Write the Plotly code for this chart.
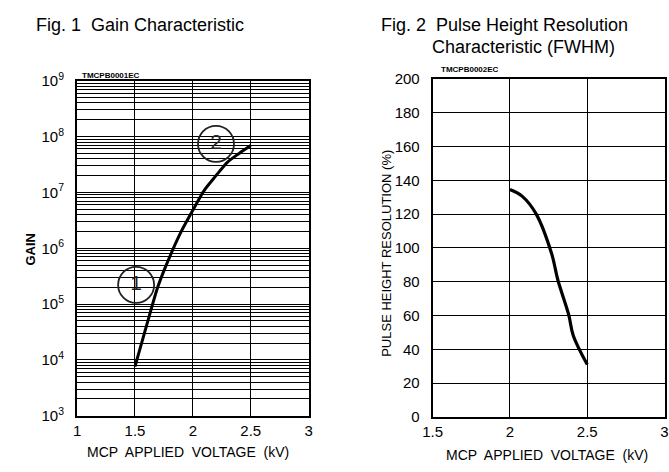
import plotly.graph_objects as go

# ---- data ----
gain_voltage = [1.5, 1.6, 1.7, 1.8, 1.9, 2.0, 2.1, 2.2, 2.3, 2.4, 2.5]
gain_values = [7.6e3, 4.1e4, 2.1e5, 7.0e5, 2.0e6, 4.8e6, 1.1e7, 2.0e7, 3.5e7, 5.0e7, 6.9e7]

res_voltage = [2.0, 2.08, 2.17, 2.27, 2.31, 2.38, 2.41, 2.5]
res_values = [134.5, 130.5, 120, 96.5, 81, 60.5, 48, 31]

label_x = [1.51, 2.2]
label_y = [2.2e5, 7.4e7]
label_text = ["1", "2"]

gain_ticks = [1e3, 1e4, 1e5, 1e6, 1e7, 1e8, 1e9]
gain_ticktext = ["10<sup>3</sup>", "10<sup>4</sup>", "10<sup>5</sup>", "10<sup>6</sup>",
                 "10<sup>7</sup>", "10<sup>8</sup>", "10<sup>9</sup>"]
gain_minor = [m * 10 ** e for e in range(3, 9) for m in range(2, 10)]

volt_ticks_left = [1, 1.5, 2, 2.5, 3]
volt_ticks_right = [1.5, 2, 2.5, 3]
res_ticks = list(range(0, 201, 20))

W, H = 669, 472
FONT = "Liberation Sans, Arial, sans-serif"

fig = go.Figure()

fig.add_trace(go.Scatter(x=gain_voltage, y=gain_values, mode="lines",
                         line=dict(color="black", width=3, shape="spline", smoothing=0.8),
                         xaxis="x", yaxis="y", showlegend=False))
fig.add_trace(go.Scatter(x=label_x, y=label_y, mode="markers+text", text=label_text,
                         textposition="middle center",
                         textfont=dict(size=21, color="#222", family=FONT),
                         marker=dict(symbol="circle-open", size=36,
                                     line=dict(color="#222", width=1.8), color="#222"),
                         xaxis="x", yaxis="y", showlegend=False))
fig.add_trace(go.Scatter(x=res_voltage, y=res_values, mode="lines",
                         line=dict(color="black", width=3.2, shape="spline"),
                         xaxis="x2", yaxis="y2", showlegend=False))


def px(x):
    return x / W


def py(y):
    return 1 - y / H


axis_common = dict(showline=True, linecolor="black", linewidth=2, mirror=True,
                   showgrid=True, gridcolor="black", gridwidth=1.2, zeroline=False,
                   tickfont=dict(size=15, color="black", family=FONT), ticks="")

fig.update_layout(
    width=W, height=H,
    margin=dict(l=0, r=0, t=0, b=0),
    paper_bgcolor="white", plot_bgcolor="white",
    font=dict(family=FONT, color="black"),
    xaxis=dict(domain=[px(68.5), px(305)], range=[1, 3], tickvals=volt_ticks_left,
               ticktext=["1", "1.5", "2", "2.5", "3"], anchor="y", **axis_common),
    yaxis=dict(domain=[py(421.7), py(72.7)], type="log", range=[3, 9],
               tickvals=gain_ticks, ticktext=gain_ticktext, anchor="x",
               ticklabelstandoff=8,
               minor=dict(tickvals=gain_minor, showgrid=True, gridcolor="black",
                          gridwidth=1.1, ticks=""),
               **axis_common),
    xaxis2=dict(domain=[px(431.7), px(668.5)], range=[1.5, 3], tickvals=volt_ticks_right,
                ticktext=["1.5", "2", "2.5", "3"], anchor="y2", **axis_common),
    yaxis2=dict(domain=[py(423), py(70.7)], range=[0, 200], tickvals=res_ticks,
                anchor="x2", ticklabelstandoff=8, **axis_common),
)

annotations = [
    dict(text="Fig. 1  Gain Characteristic", x=px(25), y=py(15), xanchor="left",
         yanchor="middle", font=dict(size=18)),
    dict(text="Fig. 2  Pulse Height Resolution", x=px(377), y=py(15), xanchor="left",
         yanchor="middle", font=dict(size=18)),
    dict(text="Characteristic (FWHM)", x=px(429), y=py(37), xanchor="left",
         yanchor="middle", font=dict(size=18)),
    dict(text="<b>TMCPB0001EC</b>", x=px(71), y=py(67), xanchor="left",
         yanchor="middle", font=dict(size=8)),
    dict(text="<b>TMCPB0002EC</b>", x=px(438), y=py(61), xanchor="left",
         yanchor="middle", font=dict(size=8)),
    dict(text="<b>GAIN</b>", x=px(20), y=py(248), textangle=-90, xanchor="center",
         yanchor="middle", font=dict(size=13)),
    dict(text="PULSE HEIGHT RESOLUTION (%)", x=px(385), y=py(252), textangle=-90,
         xanchor="center", yanchor="middle", font=dict(size=13)),
    dict(text="MCP  APPLIED  VOLTAGE  (kV)", x=px(182), y=py(460), xanchor="center",
         yanchor="middle", font=dict(size=14)),
    dict(text="MCP  APPLIED  VOLTAGE  (kV)", x=px(548), y=py(463), xanchor="center",
         yanchor="middle", font=dict(size=14)),
]
for a in annotations:
    a.update(xref="paper", yref="paper", showarrow=False)
fig.update_layout(annotations=annotations)

fig.write_html("out.html")
